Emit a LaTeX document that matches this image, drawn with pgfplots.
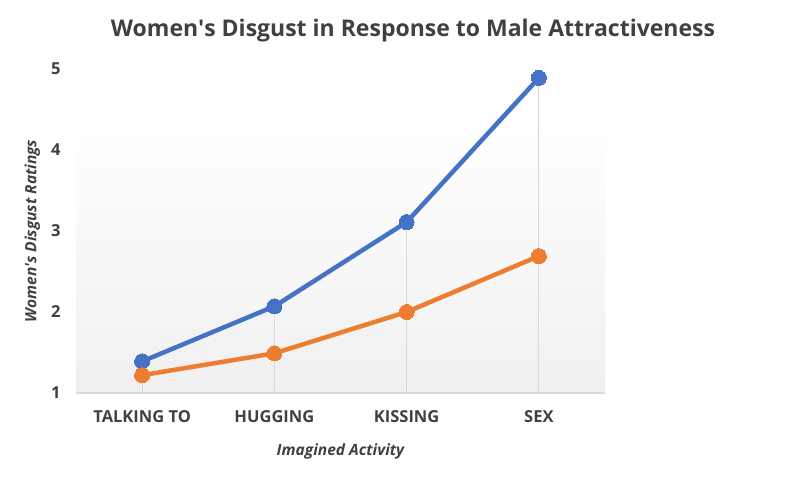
\documentclass[border=0pt]{standalone}
\usepackage{pgfplots}
\pgfplotsset{compat=1.18}
\usepackage{fontspec}
\setmainfont{Open Sans}
\definecolor{sblue}{HTML}{4472C4}
\definecolor{sorange}{HTML}{ED7D31}
\definecolor{txt}{HTML}{404040}
\definecolor{grid}{HTML}{D9D9D9}
\begin{document}
\begin{tikzpicture}[x=1bp,y=1bp]
\path (0,0) rectangle (800,477);
\node[text=txt,font=\fontsize{23bp}{27bp}\selectfont\bfseries] at (413,446) {Women\textquotesingle s Disgust in Response to Male Attractiveness};
\begin{axis}[
  at={(76bp,84bp)}, anchor=south west,
  width=529bp, height=324bp, scale only axis,
  xmin=-0.5, xmax=3.5, ymin=1, ymax=5,
  xtick={0,1,2,3},
  xticklabels={TALKING TO,HUGGING,KISSING,SEX},
  ytick={1,2,3,4,5},
  axis line style={draw=none},
  major tick length=0pt,
  tick label style={text=txt,font=\fontsize{16.5bp}{19bp}\selectfont\bfseries},
  /pgf/number format/assume math mode=true,
  xticklabel style={yshift=-14bp},
  yticklabel style={xshift=-12bp},
  xlabel={Imagined Activity},
  ylabel={Women\textquotesingle s Disgust Ratings},
  label style={text=txt,font=\fontsize{15.5bp}{18bp}\selectfont\bfseries\itshape},
  xlabel style={yshift=-14bp},
  ylabel style={yshift=4bp},
  clip=false,
]
\fill[top color=white,bottom color=black!6,draw=none] (axis cs:-0.5,1) rectangle (axis cs:3.5,4.3);
\draw[grid,line width=1.2bp] (axis cs:-0.5,1) -- (axis cs:3.5,1);
\addplot[ycomb,draw=grid,line width=1bp,no marks] coordinates {(0,1.39) (1,2.07) (2,3.11) (3,4.89)};
\addplot[sblue,line width=4.5bp,mark=*,mark size=7.5bp,mark options={fill=sblue,draw=sblue,line width=0pt}] coordinates {(0,1.39) (1,2.07) (2,3.11) (3,4.89)};
\addplot[sorange,line width=4.5bp,mark=*,mark size=7.5bp,mark options={fill=sorange,draw=sorange,line width=0pt}] coordinates {(0,1.22) (1,1.49) (2,2.00) (3,2.69)};
\end{axis}
\end{tikzpicture}
\end{document}
